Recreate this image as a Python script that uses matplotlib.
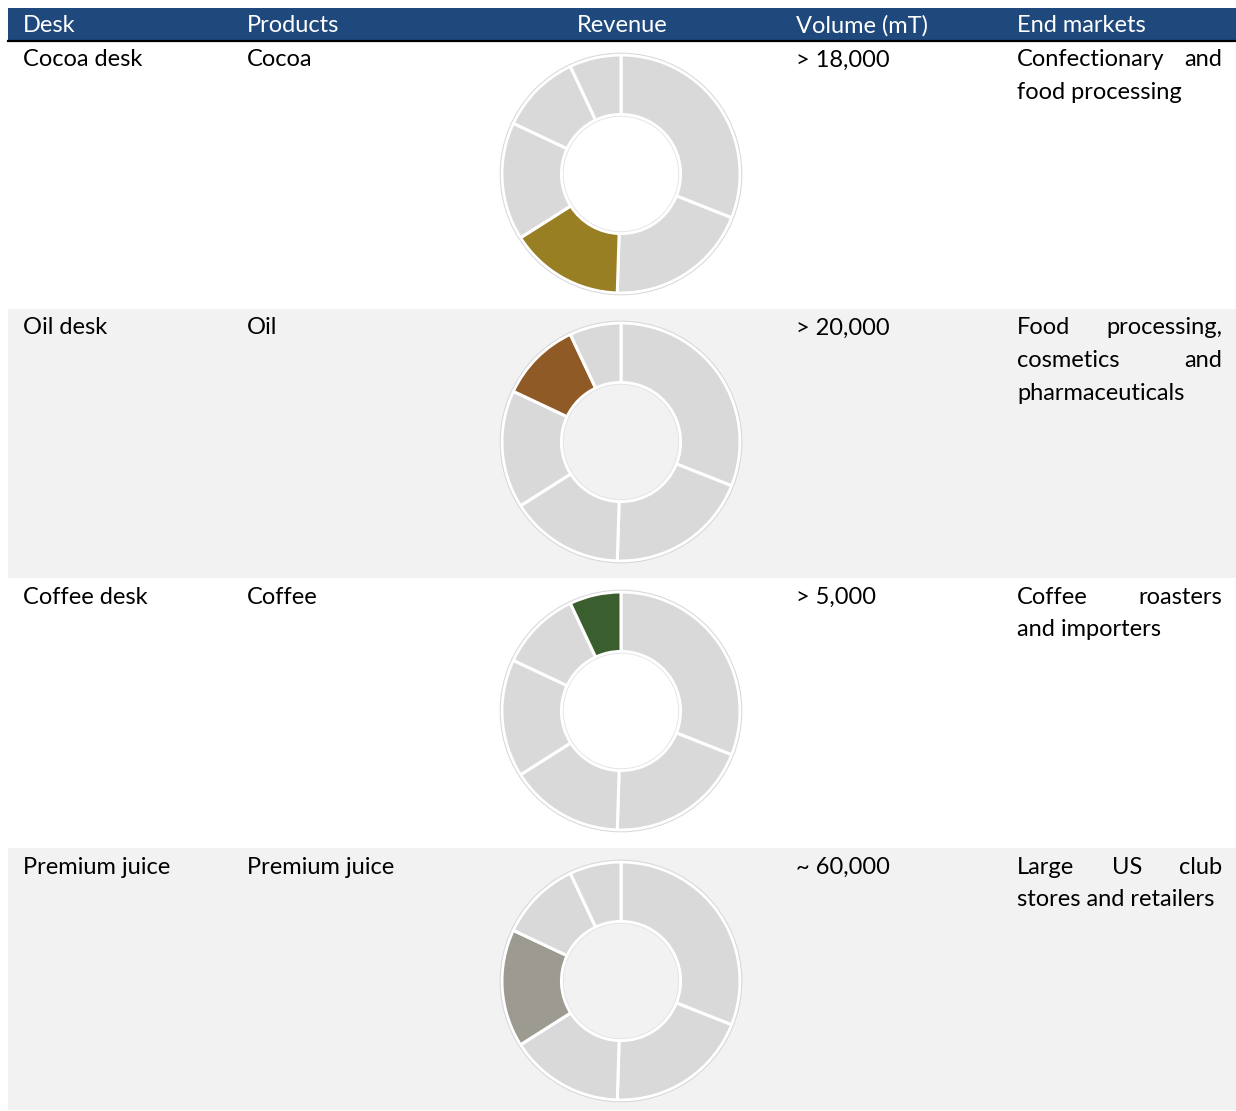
import matplotlib.pyplot as plt
from matplotlib.patches import Rectangle, Circle

plt.rcParams['font.family'] = ['Lato', 'DejaVu Sans']

# table content
headers = ["Desk", "Products", "Revenue", "Volume (mT)", "End markets"]
desks = ["Cocoa desk", "Oil desk", "Coffee desk", "Premium juice"]
products = ["Cocoa", "Oil", "Coffee", "Premium juice"]
volumes = ["> 18,000", "> 20,000", "> 5,000", "~ 60,000"]
end_markets = [
    ["Confectionary and", "food processing"],
    ["Food processing,", "cosmetics and", "pharmaceuticals"],
    ["Coffee roasters", "and importers"],
    ["Large US club", "stores and retailers"],
]
# revenue split shared by every donut, clockwise from 12 o'clock
revenue_shares = [31, 19.5, 15.5, 16, 11, 7]
highlight_index = [2, 4, 5, 3]
highlight_colors = ["#997f24", "#8f5a26", "#3b5e2f", "#9d9a92"]

W, H = 1236, 1111
fig = plt.figure(figsize=(W / 100, H / 100), dpi=100)
ax = fig.add_axes([0, 0, 1, 1])
ax.set_xlim(0, W)
ax.set_ylim(H, 0)
ax.axis('off')

left, right = 8, 1236
row_tops = [41, 309, 578, 848]
row_bottom = 1110
col_x = [23, 247, 622, 796, 1017]
just_right = 1222
fs = 17

# header band
ax.add_patch(Rectangle((left, 8), right - left, 32, color="#1f497d", lw=0))
ax.plot([left, right], [40.5, 40.5], color="black", lw=1.6)
for i, h in enumerate(headers):
    ax.text(col_x[i], 26, h, color="white", fontsize=fs,
            ha='center' if i == 2 else 'left', va='center')

bounds = row_tops + [row_bottom]
for r in range(4):
    top, bot = bounds[r] + (1 if r == 0 else 0), bounds[r + 1]
    bg = "#f2f2f2" if r % 2 == 1 else "white"
    ax.add_patch(Rectangle((left, top), right - left, bot - top, color=bg, lw=0))

    ty = row_tops[r] + 19
    ax.text(col_x[0], ty, desks[r], fontsize=fs, va='center', color="black")
    ax.text(col_x[1], ty, products[r], fontsize=fs, va='center', color="black")
    ax.text(col_x[3], ty, volumes[r], fontsize=fs, va='center', color="black")

    lines = end_markets[r]
    for j, line in enumerate(lines):
        y = ty + j * 32.5
        words = line.split()
        if j == len(lines) - 1 or len(words) == 1:
            ax.text(col_x[4], y, line, fontsize=fs, va='center')
        else:
            ax.text(col_x[4], y, words[0], fontsize=fs, va='center', ha='left')
            ax.text(just_right, y, words[-1], fontsize=fs, va='center', ha='right')
            mids = words[1:-1]
            for k, w in enumerate(mids):
                mx = col_x[4] + (just_right - col_x[4]) * (k + 1) / (len(mids) + 1) + 8
                ax.text(mx, y, w, fontsize=fs, va='center', ha='center')

    # donut
    cx, cy = 621, row_tops[r] + 133
    s = 250
    dax = fig.add_axes([(cx - s / 2) / W, 1 - (cy + s / 2) / H, s / W, s / H])
    cols = ["#d9d9d9"] * len(revenue_shares)
    cols[highlight_index[r]] = highlight_colors[r]
    dax.pie(revenue_shares, radius=1, startangle=90, counterclock=False,
            colors=cols, wedgeprops=dict(width=0.5, edgecolor="white", linewidth=2.2))
    dax.add_patch(Circle((0, 0), 1.015, fill=False, edgecolor="#d6d6d6", lw=0.7))
    dax.add_patch(Circle((0, 0), 0.485, fill=False, edgecolor="#e2e2e2", lw=0.6))
    dax.set_xlim(-1.05, 1.05)
    dax.set_ylim(-1.05, 1.05)
    dax.set_aspect('equal')
    dax.axis('off')

fig.savefig("out.png", dpi=100)
